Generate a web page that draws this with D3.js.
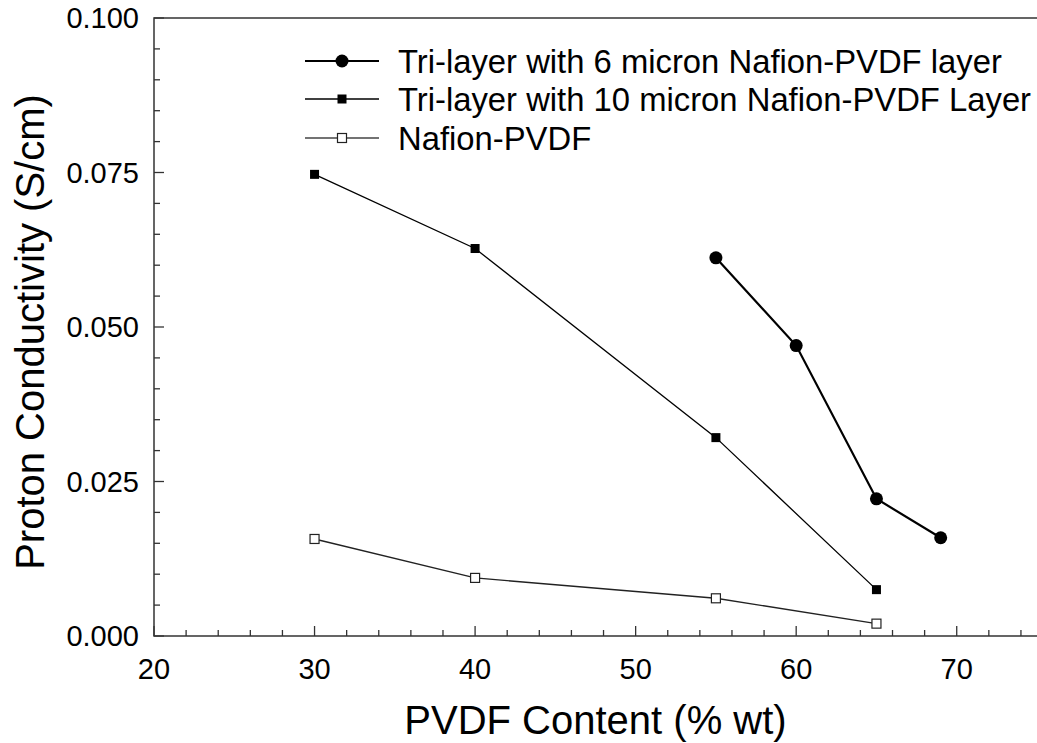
<!DOCTYPE html>
<html>
<head>
<meta charset="utf-8">
<script src="https://cdn.jsdelivr.net/npm/d3@7"></script>
<style>
  body { margin: 0; background: #fff; }
  svg text { font-family: "Liberation Sans", Arial, sans-serif; fill: #000; }
</style>
</head>
<body>
<svg id="chart"></svg>
<script>
// values
const seriesNames = [
    "Tri-layer with 6 micron Nafion-PVDF layer",
    "Tri-layer with 10 micron Nafion-PVDF Layer",
    "Nafion-PVDF"
];
const sixMicronX = [55, 60, 65, 69];
const sixMicronY = [0.0612, 0.0470, 0.0222, 0.0159];
const tenMicronX = [30, 40, 55, 65];
const tenMicronY = [0.0747, 0.0627, 0.0321, 0.0075];
const nafionX = [30, 40, 55, 65];
const nafionY = [0.0157, 0.0094, 0.0061, 0.0020];
const xTicks = [20, 30, 40, 50, 60, 70];
const yTicks = [0, 0.025, 0.05, 0.075, 0.1];

const width = 1037, height = 743;
const plotLeft = 154, plotRight = 1037, plotTop = 18, plotBottom = 636;

const svg = d3.select("#chart").attr("width", width).attr("height", height);

const x = d3.scaleLinear().domain([20, 75]).range([plotLeft, plotRight]);
const y = d3.scaleLinear().domain([0, 0.1]).range([plotBottom, plotTop]);

const axisColor = "#333";

// frame: top, left, bottom
svg.append("path")
    .attr("d", `M${plotRight},${plotTop}H${plotLeft}V${plotBottom}H${plotRight}`)
    .attr("fill", "none")
    .attr("stroke", axisColor)
    .attr("stroke-width", 1.5);

// x ticks (inside, pointing up)
const xMinor = d3.range(20, 75.01, 2).filter(v => !xTicks.includes(v));
svg.append("g").selectAll("line").data(xMinor).enter().append("line")
    .attr("x1", d => x(d)).attr("x2", d => x(d))
    .attr("y1", plotBottom).attr("y2", plotBottom - 6)
    .attr("stroke", axisColor).attr("stroke-width", 1.3);
svg.append("g").selectAll("line").data(xTicks).enter().append("line")
    .attr("x1", d => x(d)).attr("x2", d => x(d))
    .attr("y1", plotBottom).attr("y2", plotBottom - 10)
    .attr("stroke", axisColor).attr("stroke-width", 1.3);
svg.append("g").selectAll("text").data(xTicks).enter().append("text")
    .attr("x", d => x(d)).attr("y", plotBottom + 43)
    .attr("text-anchor", "middle")
    .attr("font-size", 29)
    .text(d => d);

// y ticks (inside, pointing right)
const yMinor = d3.range(0, 0.1001, 0.005).filter(v => !yTicks.some(t => Math.abs(t - v) < 1e-9));
svg.append("g").selectAll("line").data(yMinor).enter().append("line")
    .attr("x1", plotLeft).attr("x2", plotLeft + 6)
    .attr("y1", d => y(d)).attr("y2", d => y(d))
    .attr("stroke", axisColor).attr("stroke-width", 1.3);
svg.append("g").selectAll("line").data(yTicks).enter().append("line")
    .attr("x1", plotLeft).attr("x2", plotLeft + 10)
    .attr("y1", d => y(d)).attr("y2", d => y(d))
    .attr("stroke", axisColor).attr("stroke-width", 1.3);
svg.append("g").selectAll("text").data(yTicks).enter().append("text")
    .attr("x", plotLeft - 15).attr("y", d => y(d) + 10)
    .attr("text-anchor", "end")
    .attr("font-size", 29)
    .text(d3.format(".3f"));

// axis titles
svg.append("text")
    .attr("x", (plotLeft + plotRight) / 2).attr("y", 734)
    .attr("text-anchor", "middle")
    .attr("font-size", 40)
    .text("PVDF Content (% wt)");
svg.append("text")
    .attr("transform", `translate(44,${(plotTop + plotBottom) / 2 + 5}) rotate(-90)`)
    .attr("text-anchor", "middle")
    .attr("font-size", 40)
    .text("Proton Conductivity (S/cm)");

const line = d3.line().x(d => x(d[0])).y(d => y(d[1]));

function drawLine(xs, ys, stroke, sw) {
    svg.append("path")
        .datum(d3.zip(xs, ys))
        .attr("d", line)
        .attr("fill", "none")
        .attr("stroke", stroke)
        .attr("stroke-width", sw);
}

function drawCircles(g, pts) {
    g.selectAll("circle.m").data(pts).enter().append("circle")
        .attr("class", "m")
        .attr("cx", d => d[0]).attr("cy", d => d[1])
        .attr("r", 6.5)
        .attr("fill", "#000");
}

function drawSquares(g, pts, filled) {
    const s = 9;
    g.selectAll("rect.m").data(pts).enter().append("rect")
        .attr("class", "m")
        .attr("x", d => d[0] - s / 2).attr("y", d => d[1] - s / 2)
        .attr("width", s).attr("height", s)
        .attr("fill", filled ? "#000" : "#fff")
        .attr("stroke", filled ? "none" : "#222")
        .attr("stroke-width", 1.2);
}

drawLine(nafionX, nafionY, "#222", 1.4);
drawLine(tenMicronX, tenMicronY, "#000", 1.3);
drawLine(sixMicronX, sixMicronY, "#000", 2.2);

const marks = svg.append("g");
drawSquares(marks.append("g"), d3.zip(nafionX, nafionY).map(d => [x(d[0]), y(d[1])]), false);
drawSquares(marks.append("g"), d3.zip(tenMicronX, tenMicronY).map(d => [x(d[0]), y(d[1])]), true);
drawCircles(marks.append("g"), d3.zip(sixMicronX, sixMicronY).map(d => [x(d[0]), y(d[1])]));

// legend
const legendRows = [61, 99, 138];
const legend = svg.append("g");
const lineStyles = [["#000", 2.2], ["#000", 1.3], ["#444", 1.6]];
seriesNames.forEach((name, i) => {
    const ly = legendRows[i];
    legend.append("line")
        .attr("x1", 305).attr("x2", 379)
        .attr("y1", ly).attr("y2", ly)
        .attr("stroke", lineStyles[i][0])
        .attr("stroke-width", lineStyles[i][1]);
    const g = legend.append("g");
    if (i === 0) drawCircles(g, [[342, ly]]);
    else drawSquares(g, [[342, ly]], i === 1);
    legend.append("text")
        .attr("x", 398).attr("y", ly + 12)
        .attr("font-size", 32.8)
        .text(name);
});
</script>
</body>
</html>
